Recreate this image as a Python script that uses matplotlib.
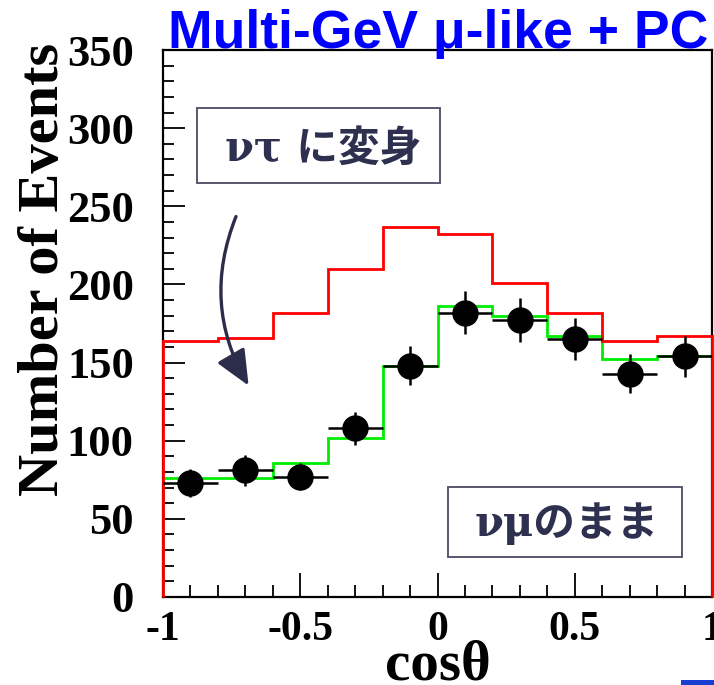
import numpy as np
import matplotlib
matplotlib.use("Agg")
import matplotlib.pyplot as plt
from matplotlib.patches import Rectangle, FancyArrowPatch
from matplotlib.ticker import MultipleLocator

# zenith angle bins (cos theta)
bin_edges = [-1.0, -0.8, -0.6, -0.4, -0.2, 0.0, 0.2, 0.4, 0.6, 0.8, 1.0]
no_osc = [164, 166, 182, 210, 237, 232, 201, 182, 164, 167]     # red: no oscillation MC
osc_mc = [76, 76, 86, 102, 148, 186, 180, 167, 152, 154]        # green: oscillated MC
data_x = [-0.9, -0.7, -0.5, -0.3, -0.1, 0.1, 0.3, 0.5, 0.7, 0.9]
data_y = [73, 81, 77, 108, 148, 182, 177, 165, 143, 154]
data_err = [8.7, 9.8, 8.7, 10.6, 12.5, 14, 14, 13.4, 12.5, 13]
xtick_vals = [-1, -0.5, 0, 0.5, 1]
xtick_text = ["-1", "-0.5", "0", "0.5", "1"]

W, H = 714, 685
fig = plt.figure(figsize=(W / 100, H / 100), dpi=100)

def fx(px):
    return px / W

def fy(py):
    return 1 - py / H

ax = fig.add_axes([fx(163), fy(597), (712 - 163) / W, (597 - 50) / H])
ax.set_xlim(-1, 1)
ax.set_ylim(0, 350)

ax.stairs(osc_mc, bin_edges, baseline=0, color="#00ee00", lw=2, clip_on=False, zorder=2)
ax.stairs(no_osc, bin_edges, baseline=0, color="#ff0000", lw=2, clip_on=False, zorder=3)
ax.errorbar(data_x, data_y, xerr=0.1, yerr=data_err, fmt="o", color="black",
            ms=18, elinewidth=1.8, capsize=0, zorder=4)

serif = "Liberation Serif"
for sp in ax.spines.values():
    sp.set_linewidth(1.6)
ax.yaxis.set_major_locator(MultipleLocator(50))
ax.yaxis.set_minor_locator(MultipleLocator(10))
ax.xaxis.set_minor_locator(MultipleLocator(0.1))
ax.set_xticks(xtick_vals)
ax.set_xticklabels(xtick_text)
ax.tick_params(which="both", direction="in", top=False, right=False, width=1.3)
ax.tick_params(axis="y", which="major", length=16, pad=21)
ax.tick_params(axis="y", which="minor", length=8)
ax.tick_params(axis="x", which="major", length=17, pad=10)
ax.tick_params(axis="x", which="minor", length=9)
for lab in ax.get_yticklabels():
    lab.set_fontfamily(serif)
    lab.set_fontweight("bold")
    lab.set_fontsize(32)
for lab in ax.get_xticklabels():
    lab.set_fontfamily(serif)
    lab.set_fontweight("bold")
    lab.set_fontsize(30)

fig.text(fx(44), fy(269), "Number of Events", rotation=90, ha="center", va="center",
         family=serif, weight="bold", fontsize=42)
fig.text(fx(438), fy(679), "cosθ", ha="center", va="baseline",
         family=serif, weight="bold", fontsize=41)
fig.text(fx(168), fy(48), "Multi-GeV μ-like + PC", ha="left", va="baseline",
         family="Liberation Sans", weight="bold", fontsize=38.5, color="#0000ff")

# annotation boxes
navy = "#2e3050"
jp = ["DejaVu Serif", "Noto Sans CJK JP"]
fig.patches.append(Rectangle((fx(197), fy(183)), (440 - 197) / W, (183 - 108) / H,
                             transform=fig.transFigure, facecolor="white",
                             edgecolor="#4a4a62", lw=1.3, zorder=5))
fig.text(fx(323), fy(149), "ντ に変身", ha="center", va="center", family=jp,
         weight="bold", fontsize=30, color=navy, zorder=6)
fig.patches.append(Rectangle((fx(448), fy(557)), (682 - 448) / W, (557 - 487) / H,
                             transform=fig.transFigure, facecolor="white",
                             edgecolor="#4a4a62", lw=1.3, zorder=5))
fig.text(fx(567), fy(524), "νμのまま", ha="center", va="center", family=jp,
         weight="bold", fontsize=30, color=navy, zorder=6)

arrow = FancyArrowPatch((fx(237), fy(214)), (fx(250), fy(388)), transform=fig.transFigure,
                        connectionstyle="arc3,rad=0.25", arrowstyle="-|>,head_length=0.9,head_width=0.4",
                        mutation_scale=24, color="#2b2d4a", lw=2.4, zorder=6)
fig.patches.append(arrow)

fig.patches.append(Rectangle((fx(681), 0), (714 - 681) / W, 5 / H, transform=fig.transFigure,
                             facecolor="#1a3fd0", edgecolor="none"))

fig.savefig("out.png", dpi=100)
